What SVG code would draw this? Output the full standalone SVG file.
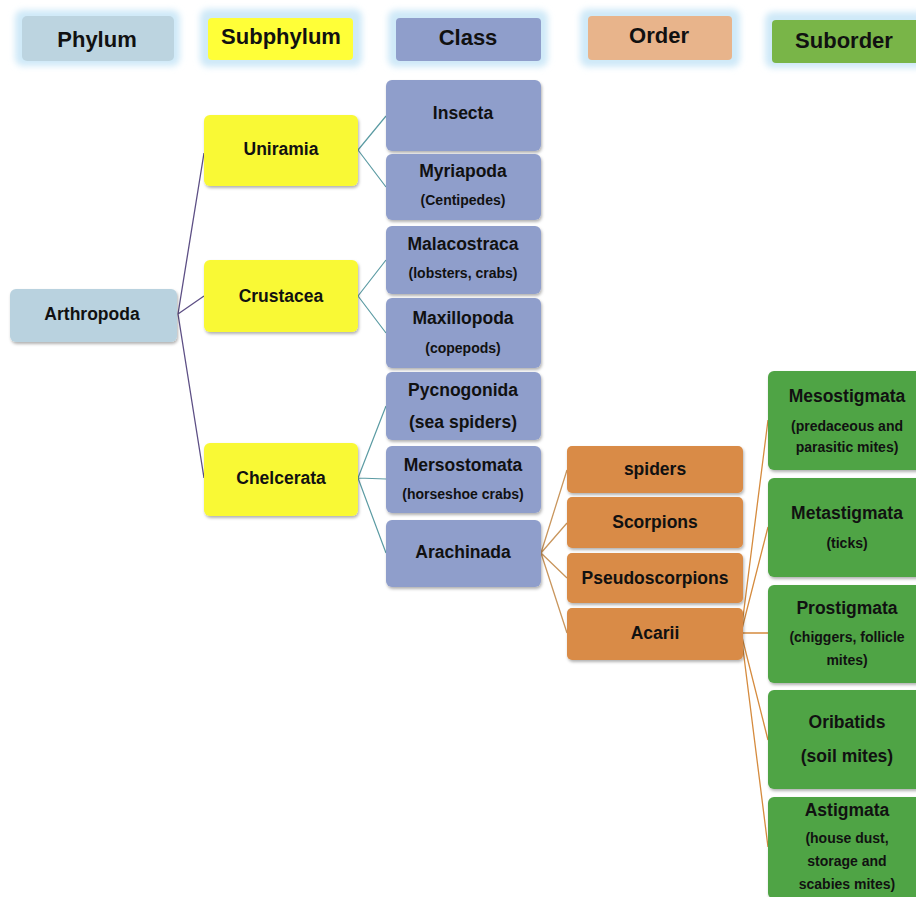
<svg xmlns="http://www.w3.org/2000/svg" width="916" height="897" viewBox="0 0 916 897">
<defs>
<filter id="sh" x="-10%" y="-10%" width="120%" height="130%">
<feDropShadow dx="1" dy="2" stdDeviation="1.5" flood-color="#000" flood-opacity="0.3"/>
</filter>
<filter id="glow" x="-20%" y="-40%" width="140%" height="180%">
<feGaussianBlur stdDeviation="3"/>
</filter>
<style>
text{font-family:"Liberation Sans",Arial,sans-serif;font-weight:bold;fill:#111;text-anchor:middle;}
.h{font-size:22px;}
.t{font-size:17.5px;}
.s{font-size:14px;}
.gl{fill:#cfe9f8;filter:url(#glow);}
.box{filter:url(#sh);}
.phy{fill:#b9d2df;}
.sub{fill:#f9f934;}
.cls{fill:#8f9ecb;}
.ord{fill:#d98b46;}
.so{fill:#4fa445;}
.c1{stroke:#5d4f85;stroke-width:1.3;fill:none;}
.c2{stroke:#5b9ba3;stroke-width:1.2;fill:none;}
.c3{stroke:#c9965d;stroke-width:1.3;fill:none;}
.c4{stroke:#d58b3e;stroke-width:1.3;fill:none;}
</style>
</defs>
<rect width="916" height="897" fill="#fff"/>

<g id="headers">
<g id="h-phylum"><rect class="gl" x="15" y="10" width="165" height="56" rx="8"/><rect x="22" y="16" width="152" height="45" rx="5" fill="#bcd4e0"/><text class="h" x="97" y="47">Phylum</text></g>
<g id="h-subphylum"><rect class="gl" x="200" y="9" width="162" height="58" rx="8"/><rect x="208" y="18" width="145" height="42" rx="4" fill="#ffff38"/><text class="h" x="281" y="44">Subphylum</text></g>
<g id="h-class"><rect class="gl" x="388" y="10" width="160" height="57" rx="8"/><rect x="396" y="18" width="145" height="43" rx="4" fill="#8f9ecb"/><text class="h" x="468" y="45">Class</text></g>
<g id="h-order"><rect class="gl" x="580" y="9" width="160" height="58" rx="8"/><rect x="588" y="16" width="144" height="44" rx="4" fill="#e8b48b"/><text class="h" x="659" y="43">Order</text></g>
<g id="h-suborder"><rect class="gl" x="765" y="12" width="160" height="56" rx="8"/><rect x="772" y="20" width="150" height="43" rx="4" fill="#79b548"/><text class="h" x="844" y="48">Suborder</text></g>
</g>

<g id="connectors">
<path class="c1" d="M178 314 L204 153 M178 314 L204 296 M178 314 L204 478"/>
<path class="c2" d="M358 150 L386 116 M358 150 L386 187 M358 296 L386 260 M358 296 L386 333 M358 478 L386 406 M358 478 L386 479 M358 478 L386 553"/>
<path class="c3" d="M541 553 L567 470 M541 553 L567 523 M541 553 L567 578 M541 553 L567 633"/>
<path class="c4" d="M741 633 L768 420 M741 633 L768 527 M741 633 L768 633 M741 633 L768 740 M741 633 L768 847"/>
</g>

<g id="arthropoda"><rect class="box phy" x="10" y="289" width="167" height="53" rx="6"/><text class="t" x="92" y="320">Arthropoda</text></g>

<g id="uniramia"><rect class="box sub" x="204" y="115" width="154" height="71" rx="6"/><text class="t" x="281" y="155">Uniramia</text></g>
<g id="crustacea"><rect class="box sub" x="204" y="260" width="154" height="72" rx="6"/><text class="t" x="281" y="302">Crustacea</text></g>
<g id="chelcerata"><rect class="box sub" x="204" y="443" width="154" height="73" rx="6"/><text class="t" x="281" y="484">Chelcerata</text></g>

<g id="insecta"><rect class="box cls" x="386" y="80" width="155" height="71" rx="6"/><text class="t" x="463" y="119">Insecta</text></g>
<g id="myriapoda"><rect class="box cls" x="386" y="154" width="155" height="66" rx="6"/><text class="t" x="463" y="177">Myriapoda</text><text class="s" x="463" y="205">(Centipedes)</text></g>
<g id="malacostraca"><rect class="box cls" x="386" y="226" width="155" height="68" rx="6"/><text class="t" x="463" y="250">Malacostraca</text><text class="s" x="463" y="278">(lobsters, crabs)</text></g>
<g id="maxillopoda"><rect class="box cls" x="386" y="298" width="155" height="70" rx="6"/><text class="t" x="463" y="324">Maxillopoda</text><text class="s" x="463" y="353">(copepods)</text></g>
<g id="pycnogonida"><rect class="box cls" x="386" y="372" width="155" height="68" rx="6"/><text class="t" x="463" y="396">Pycnogonida</text><text class="t" x="463" y="428">(sea spiders)</text></g>
<g id="mersostomata"><rect class="box cls" x="386" y="446" width="155" height="67" rx="6"/><text class="t" x="463" y="471">Mersostomata</text><text class="s" x="463" y="499">(horseshoe crabs)</text></g>
<g id="arachinada"><rect class="box cls" x="386" y="520" width="155" height="67" rx="6"/><text class="t" x="463" y="558">Arachinada</text></g>

<g id="spiders"><rect class="box ord" x="567" y="446" width="176" height="47" rx="5"/><text class="t" x="655" y="475">spiders</text></g>
<g id="scorpions"><rect class="box ord" x="567" y="497" width="176" height="51" rx="5"/><text class="t" x="655" y="528">Scorpions</text></g>
<g id="pseudoscorpions"><rect class="box ord" x="567" y="553" width="176" height="50" rx="5"/><text class="t" x="655" y="584">Pseudoscorpions</text></g>
<g id="acarii"><rect class="box ord" x="567" y="608" width="176" height="52" rx="5"/><text class="t" x="655" y="639">Acarii</text></g>

<g id="mesostigmata"><rect class="box so" x="768" y="371" width="160" height="99" rx="6"/><text class="t" x="847" y="402">Mesostigmata</text><text class="s" x="847" y="431">(predaceous and</text><text class="s" x="847" y="452">parasitic mites)</text></g>
<g id="metastigmata"><rect class="box so" x="768" y="478" width="160" height="99" rx="6"/><text class="t" x="847" y="519">Metastigmata</text><text class="s" x="847" y="548">(ticks)</text></g>
<g id="prostigmata"><rect class="box so" x="768" y="585" width="160" height="98" rx="6"/><text class="t" x="847" y="614">Prostigmata</text><text class="s" x="847" y="642">(chiggers, follicle</text><text class="s" x="847" y="665">mites)</text></g>
<g id="oribatids"><rect class="box so" x="768" y="690" width="160" height="99" rx="6"/><text class="t" x="847" y="728">Oribatids</text><text class="t" x="847" y="762">(soil mites)</text></g>
<g id="astigmata"><rect class="box so" x="768" y="797" width="160" height="102" rx="6"/><text class="t" x="847" y="816">Astigmata</text><text class="s" x="847" y="843">(house dust,</text><text class="s" x="847" y="866">storage and</text><text class="s" x="847" y="889">scabies mites)</text></g>
</svg>
